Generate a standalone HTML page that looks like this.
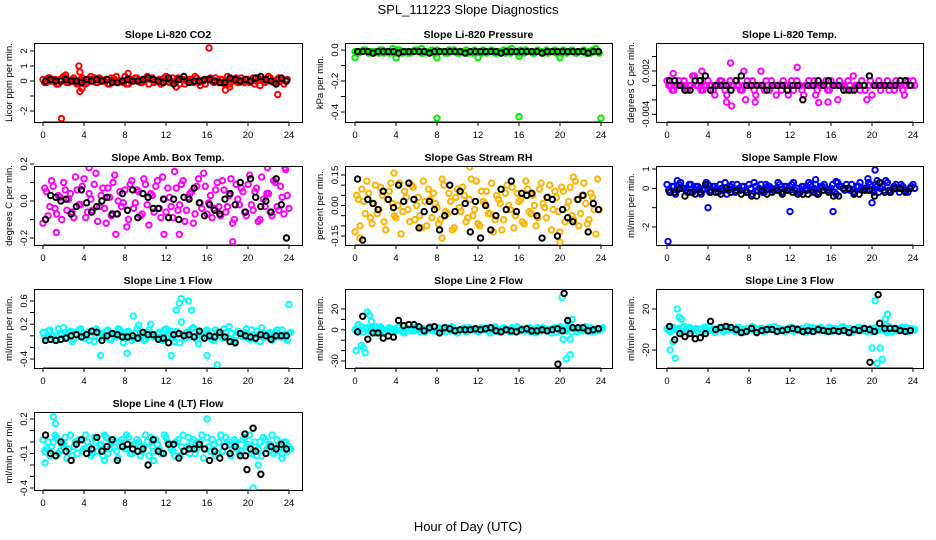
<!DOCTYPE html>
<html><head><meta charset="utf-8"><style>
html,body{margin:0;padding:0;background:#fff;}
svg{display:block;font-family:"Liberation Sans",sans-serif;}
</style></head><body>
<svg id="chart" width="936" height="540" viewBox="0 0 936 540" xmlns="http://www.w3.org/2000/svg">
<text x="468" y="14" text-anchor="middle" font-size="13">SPL_111223  Slope Diagnostics</text>
<text x="468" y="531" text-anchor="middle" font-size="13">Hour of Day (UTC)</text>
</svg>
<script>
// ---- data (values in panel units multiplied by panel scale k) ----
const xTicks = [0,4,8,12,16,20,24];
// CO2 (k=0.1)
const co2A = [1,-1,2,0,-2,1,3,-1,0,2,-2,1,0,-1,3,2,-1,1,0,-2,2,1,-1,0,3,-2,1,2,0,-1,1,-2,2,0,1,-1,3,-1,2,0,-2,1,0,1,-1,2,-3,0,1,2,-1,0,1,-2,3,1,0,-1,2,-1,1,0,-2,2,1,-1,3,0,-1,2,1,0];
const co2B = [-1,2,0,1,-2,0,2,-1,1,-1,0,2,-2,1,0,-1,2,0,1,-2,1,3,0,-1,-2,1,0,2,-1,0,3,1,-1,0,-2,2,1,0,-1,2,1,-2,0,1,3,-1,0,-2,1,0,2,-1,1,0,-2,1,2,-1,0,1,-1,2,0,-3,1,0,2,-1,1,0,-2,1];
const co2Blk = [0,1,0,0,1,0,0,-1,1,0,1,0,1,-1,-1,0,1,0,0,1,2,1,0,-1,2,-2,1,3,-1,0,0,1,1,0,-1,-1,2,1,0,1,0,2,3,1,0,-2,2,0];
const co2Out = [[1.8,-25],[3.5,10],[3.6,6],[3.6,-7],[3.8,-5],[16.2,22],[17.8,-6],[18.2,-4],[22.9,-9],[13,-4],[8.3,5],[2.2,4]];
// Pressure (k=0.01)
const prsA = [-1,-2,-1,0,-2,-1,-1,-2,0,-1,-2,-1,-1,0,-2,-1,-2,-1,0,-1,-2,-1,-1,-2,0,-1,-1,-2,-1,0,-2,-1,-1,-2,-1,0,-1,-2,-1,-1,0,-2,-1,-1,-2,0,-1,-1,-2,-1,0,-1,-2,-1,-1,-2,0,-1,-1,-2,-1,0,-2,-1,-1,-2,-1,0,-1,-2,-1,-1];
const prsB = [-2,-1,0,-1,-1,-2,-1,0,-2,-1,-1,-2,0,-1,-1,-2,-1,0,-1,-2,-1,-1,0,-2,-1,-1,-2,0,-1,-1,-2,-1,0,-1,-2,-1,-1,0,-2,-1,-1,-2,-1,0,-1,-2,-1,-1,0,-2,-1,-1,-2,0,-1,-1,-2,-1,0,-1,-2,-1,-1,0,-2,-1,-1,-2,-1,0,-1,-2];
const prsBlk = [-1,-1,-1,-2,-1,-1,-1,-1,-2,-1,-1,-1,-1,-1,-2,-1,-1,-1,-1,-1,-1,-2,-1,-1,-1,-1,-1,-1,-2,-1,-1,-1,-1,-1,-1,-1,-2,-1,-1,-1,-1,-1,-1,-1,-1,-2,-1,-1];
const prsOut = [[0,-5],[4,-5],[8,-5],[12,-5],[16,-4],[20,-5],[8,-44],[16,-43],[24,-44],[3.7,1],[6.5,1],[15.3,1],[23.5,1]];
// Li-820 Temp (k=0.00066)
const tmpA = [1,0,-1,0,0,1,-1,0,2,0,-1,0,1,0,-2,0,1,-1,0,0,1,0,-1,-3,0,1,-2,0,0,1,-1,0,-2,0,1,0,0,-1,1,0,-2,0,0,1,-1,0,0,-1,1,0,-3,0,0,1,-1,0,0,1,-1,0,-2,0,1,0,0,-1,0,1,0,-1,0,0,1];
const tmpB = [0,-1,0,1,0,-1,0,2,0,1,-1,0,0,-1,0,1,0,-2,1,0,0,-1,0,1,0,-1,0,3,-1,0,1,0,0,-1,0,-2,1,0,0,-1,0,1,0,-2,0,0,1,-1,0,0,1,0,-1,0,2,0,-1,0,-3,1,0,0,-1,0,1,0,-1,0,0,-2,1,0,0];
const tmpBlk = [1,1,0,-1,-1,1,1,2,-1,0,0,0,-1,1,2,0,0,0,0,-1,0,0,0,-1,0,0,-3,0,0,1,0,1,0,0,-1,-1,-1,0,0,2,0,0,0,0,0,1,1,0];
const tmpOut = [[6.2,4.7],[12.7,3.8],[0.6,2.5],[3.4,3],[7.5,3],[5.8,-3.5],[6.3,-4.3],[14.8,-3.6],[15.7,-3.5],[8.6,-3.5]];
// Amb box temp (k=0.01)
const ambA = [-12,5,-3,8,-7,2,10,-5,4,-9,6,-2,12,-6,1,9,-11,3,-4,7,-8,14,0,-3,6,-10,11,-1,5,-7,9,-13,3,8,-4,13,-6,2,-9,7,-2,11,-5,4,-12,8,-1,15,-7,3,-4,10,-8,6,-3,12,-10,1,7,-6,9,-2,5,-11,13,-3,4,-8,10,-5,2,17,-4];
const ambB = [7,-8,11,-4,3,-10,6,1,-6,13,-2,8,-9,4,-5,15,-3,7,-12,2,10,-7,5,-1,-14,9,-4,6,-8,12,-2,4,-6,11,-9,1,7,-3,16,-5,9,-11,2,5,-7,12,-4,8,-1,-9,6,-3,11,-6,3,-12,9,-2,5,-8,14,-5,7,-10,1,4,-6,11,-3,8,-7,3];
const ambBlk = [-10,3,2,0,1,-7,-3,6,-1,-6,-3,0,2,-7,-7,4,-5,6,-9,4,2,-4,-4,1,-9,1,-10,2,1,7,-1,-8,-2,-5,-7,1,4,-2,10,-6,12,2,-3,0,-6,12,-2,-20];
const ambOut = [[4.5,18],[21.9,18],[23.6,18],[18.5,-22],[7.1,-18],[11.8,-18],[1.3,-17],[13.3,-18]];
// Gas stream RH (k=0.01)
const rhA = [-13,3,8,-4,6,-9,10,-2,5,-12,7,1,-6,11,-3,4,-8,9,0,-5,12,-10,3,6,-1,-7,10,-4,2,-11,8,-3,5,-6,13,-2,-9,7,1,-4,11,-7,3,-12,6,0,9,-5,2,-8,12,-3,5,-10,8,1,-6,10,-2,4,-13,7,-1,9,-7,3,-4,11,-9,6,-2,13];
const rhB = [5,-10,2,12,-6,1,-4,9,-8,3,11,-5,0,-14,7,-2,10,-7,4,-11,2,8,-6,1,-9,13,-3,6,-12,4,-1,9,-8,3,-5,12,-10,2,7,-4,-13,5,1,-7,10,-2,-11,6,3,-9,8,-4,0,-6,11,-1,4,-12,7,-3,9,-8,2,-5,12,-10,5,1,-7,4,-14,-2];
const rhBlk = [13,-17,3,1,-2,7,3,-1,10,2,11,3,-11,-3,2,-2,-12,-5,10,-3,7,1,-13,2,-16,0,-12,-5,8,-2,12,-3,6,5,6,-5,-16,4,3,-15,-2,-6,-8,3,5,-13,1,-2];
const rhOut = [[11.2,19],[20,-18],[0.5,-16],[3.8,16],[21.3,14],[8.5,-16]];
// Sample flow (k=0.1)
const sfA = [2,-2,1,-1,3,0,-2,2,-1,1,-3,0,2,-1,1,-2,0,3,-1,2,-2,0,1,-1,2,-3,1,0,-2,2,1,-1,0,2,-2,1,-1,3,0,-2,1,-1,2,0,-3,1,2,-1,0,-2,3,1,-1,0,2,-2,1,-1,0,3,-1,2,-2,1,4,-1,0,2,-2,1,-1,0,2];
const sfB = [-1,1,-3,2,0,-1,2,-2,1,0,-1,3,-2,1,0,2,-1,-3,1,0,2,-1,1,-2,0,3,-1,2,-2,1,0,-1,3,-2,1,0,2,-1,-2,1,0,3,-1,2,-2,1,0,-1,2,-3,1,0,2,-1,-2,1,3,0,-1,2,-2,1,0,-1,3,-2,1,0,2,-1,-2,1,0];
const sfBlk = [-2,-2,0,-4,-2,-3,-2,2,-2,-2,-3,0,-2,-1,-3,-2,-4,-4,-1,-3,-2,-1,-3,-1,-2,-3,-3,-3,-2,-3,-1,-2,-4,-4,0,0,-3,-3,-1,-1,-4,3,-2,-2,0,0,-2,0];
const sfOut = [[0.1,-27.5],[4,-10],[12,-12],[16.2,-12],[20,-7.5],[20.3,9.5],[19.6,5],[14.5,4.5],[1,4],[16.5,3.5],[20.5,4]];
// Line 1 flow (k=0.02)
const l1A = [3,-2,5,0,-4,2,7,-1,4,-3,1,6,-2,3,0,-5,4,2,-1,5,-3,1,6,0,-2,4,-4,2,9,1,-3,5,0,-1,3,-4,6,2,-2,4,-6,1,3,-1,7,-3,2,0,5,-2,-4,3,1,6,-1,2,-5,4,0,3,-2,5,-3,1,7,-1,2,-4,3,0,5,-2,2];
const l1B = [-1,4,0,-3,6,1,-2,3,-5,2,5,-1,1,-4,3,6,-2,0,4,-3,2,-1,5,-6,3,1,-2,6,0,-4,3,10,-1,2,-3,5,0,4,-5,1,12,-2,3,6,-1,-7,2,4,0,-3,5,1,-2,3,8,-4,0,2,-1,6,-3,1,4,-5,2,0,3,-2,5,-1,1,-4,3];
const l1Blk = [-4,-3,-4,-3,-2,0,1,-1,1,4,3,-4,0,2,1,-1,-1,0,-2,3,1,1,-3,-2,-6,1,2,0,1,-1,4,-2,0,-1,3,-1,-5,-6,2,0,-1,-2,1,0,-3,0,0,0];
const l1Out = [[13,22],[13.5,32],[14.2,30],[24,27],[17,-25],[5.6,-17],[12.5,-17],[8.2,-15],[16,-17],[8.8,17],[14.5,22],[13.3,28]];
// Line 2 flow (k=1)
const l2A = [0,-2,3,1,-1,2,-3,0,1,-2,2,0,-1,3,-2,1,0,-1,2,-2,1,0,3,-1,-2,1,0,2,-1,1,-3,0,2,-1,1,0,-2,2,1,-1,0,3,-2,1,0,-1,2,-2,0,1,-1,2,0,-3,1,2,-1,0,1,-2,3,0,-1,2,1,-2,0,1,-1,2,0,-1,1];
const l2B = [1,0,-2,2,0,-1,1,3,-2,0,1,-1,2,0,-3,1,-1,2,0,1,-2,1,0,-1,2,0,-2,1,3,-1,0,1,-2,2,0,-1,1,0,2,-3,1,0,-1,2,0,-2,1,3,-1,0,1,-2,0,2,-1,1,0,-3,2,1,-1,0,2,-2,1,0,-1,3,0,-2,1,0,2];
const l2Blk = [-2,13,-9,-3,-3,-8,-6,-7,9,4,5,5,3,-1,2,3,-3,2,1,-1,0,0,0,1,0,1,2,-1,-2,0,-1,-2,0,1,-1,-1,0,-1,0,1,-1,9,2,2,2,-1,0,1];
const l2Out = [[0.1,-20],[0.3,5],[0.6,-15],[0.8,-17],[1,-22],[1.2,17],[1.4,14],[1.6,8],[20.2,31],[20.6,-28],[21,-24],[20.8,7],[21.2,10],[20.3,-9],[21,-9],[2,3]];
const l2BlkOut = [[19.8,-33],[20.4,35]];
// Line 3 flow (k=1)
const l3A = [1,-2,2,0,-1,3,-2,1,0,-2,1,2,-1,0,-3,1,2,-1,0,1,-2,2,0,-1,1,3,-2,0,1,-1,2,0,-2,1,0,-1,2,-2,1,0,-1,3,0,-2,1,2,-1,0,-2,1,0,2,-1,1,-3,0,2,-1,1,0,-2,2,1,0,-1,3,-2,0,1,-1,2,0,-1];
const l3B = [-1,2,0,1,-3,0,2,-1,1,0,-2,1,3,-1,0,2,-2,1,0,-1,2,0,-3,1,0,2,-1,1,-2,0,1,3,-1,0,-2,1,2,0,-1,1,-3,0,2,1,-1,0,-2,2,1,0,-1,3,-2,1,0,-1,2,0,-2,1,1,-1,0,2,-3,1,0,-1,2,0,-2,1,0];
const l3Blk = [3,-10,-4,-7,-4,-9,-8,-4,8,0,2,3,2,0,-3,-2,1,-3,-1,0,0,-2,-1,0,1,0,-2,-1,-2,0,-1,-2,-1,-2,-1,-3,0,-1,1,0,-2,6,1,1,1,-1,-2,-1];
const l3Out = [[0.3,-20],[0.6,-12],[1,20],[1.2,12],[1.4,10],[0.8,-28],[20.3,28],[20.5,-33],[20.8,-18],[21,-29],[21.3,10],[21.5,15],[20,-18]];
const l3BlkOut = [[19.8,-32],[20.6,34]];
// Line 4 (LT) flow (k=0.02)
const l4A = [1,-3,-6,0,2,-4,-1,-7,3,-2,-5,1,-3,0,-6,2,-4,-1,3,-5,0,-2,-7,1,-3,2,-5,-1,0,-4,3,-6,-2,1,-3,-5,2,-1,-4,0,-6,3,-2,-5,1,-3,0,-7,2,-4,-1,-5,3,-2,0,-6,1,-3,-4,2,-1,-5,0,-3,-6,1,-2,3,-4,-1,-5,0,-2];
const l4B = [-4,0,-2,3,-5,-1,2,-3,-6,0,1,-4,3,-2,-5,0,-1,-6,2,-3,1,-4,0,-2,3,-5,-1,1,-6,-2,0,2,-4,-1,-5,3,0,-3,-6,1,-2,-4,2,0,-5,-1,3,-3,-2,1,-6,0,-4,2,-1,-3,0,-5,1,-2,3,-4,-6,0,2,-3,-1,-5,1,-2,0,-4,-3];
const l4Blk = [3,-5,-6,0,-4,-8,-1,1,-5,-3,2,-4,-2,1,-8,-2,-1,-3,-4,-3,-10,1,-4,-5,-1,-1,-7,-4,-3,-3,-1,-3,-8,-4,-7,-2,-5,-2,-6,-6,-3,-4,-14,-5,-2,-3,-1,-3];
const l4Out = [[0.2,-9],[1,11],[1.2,8],[16,10],[20.5,-20],[21,-10],[6,-8],[23.3,-7],[10.8,-8]];
const l4BlkOut = [[19.9,-12],[20.5,6],[19.7,3.5]];

// ---- layout ----
const colX0 = [43,355,667], colL = [34,345,656], colR = [302,612,923];
const rowT = [43,166,289,412], rowB = [122,245,368,490];
const panels = [
 {id:'co2',title:'Slope Li-820 CO2',ylab:'Licor ppm per min.',color:'#ff0000',c:0,r:0,k:0.1,ref:[2,51,-2,111],ticks:[-2,-1,0,1,2],labels:['2','1','0','-2'],labelV:[2,1,0,-2],A:co2A,B:co2B,K:co2Blk,O:co2Out,KO:[]},
 {id:'pressure',title:'Slope Li-820 Pressure',ylab:'kPa per min.',color:'#00ee00',c:1,r:0,k:0.01,ref:[0,50,-0.4,112],ticks:[0,-0.1,-0.2,-0.3,-0.4],labels:['0.0','-0.2','-0.4'],labelV:[0,-0.2,-0.4],A:prsA,B:prsB,K:prsBlk,O:prsOut,KO:[]},
 {id:'li820-temp',title:'Slope Li-820 Temp.',ylab:'degrees C per min.',color:'#ff00ff',c:2,r:0,k:0.00066,ref:[0.002,71,-0.004,114.3],ticks:[0.004,0.002,0,-0.002,-0.004],labels:['0.002','-0.004'],labelV:[0.002,-0.004],A:tmpA,B:tmpB,K:tmpBlk,O:tmpOut,KO:[]},
 {id:'amb-box-temp',title:'Slope Amb. Box Temp.',ylab:'degrees C per min.',color:'#ff00ff',c:0,r:1,k:0.01,ref:[0.2,164,-0.2,238],ticks:[0.2,0.1,0,-0.1,-0.2],labels:['0.2','0.0','-0.2'],labelV:[0.2,0,-0.2],A:ambA,B:ambB,K:ambBlk,O:ambOut,KO:[]},
 {id:'gas-rh',title:'Slope Gas Stream RH',ylab:'percent per min.',color:'#ffb300',c:1,r:1,k:0.01,ref:[0.15,175,-0.15,236],ticks:[0.15,0.1,0.05,0,-0.05,-0.1,-0.15],labels:['0.15','0.00','-0.15'],labelV:[0.15,0,-0.15],A:rhA,B:rhB,K:rhBlk,O:rhOut,KO:[]},
 {id:'sample-flow',title:'Slope Sample Flow',ylab:'ml/min per min.',color:'#0000ff',c:2,r:1,k:0.1,ref:[1,169,-2,227],ticks:[1,0,-1,-2],labels:['1','0','-2'],labelV:[1,0,-2],A:sfA,B:sfB,K:sfBlk,O:sfOut,KO:[]},
 {id:'line1-flow',title:'Slope Line 1 Flow',ylab:'ml/min per min.',color:'#00ffff',c:0,r:2,k:0.02,ref:[0.6,301,-0.4,359],ticks:[0.6,0.4,0.2,0,-0.2,-0.4],labels:['0.6','0.2','-0.4'],labelV:[0.6,0.2,-0.4],A:l1A,B:l1B,K:l1Blk,O:l1Out,KO:[]},
 {id:'line2-flow',title:'Slope Line 2 Flow',ylab:'ml/min per min.',color:'#00ffff',c:1,r:2,k:1,ref:[20,309,-30,361],ticks:[20,10,0,-10,-20,-30],labels:['20','0','-30'],labelV:[20,0,-30],A:l2A,B:l2B,K:l2Blk,O:l2Out,KO:l2BlkOut},
 {id:'line3-flow',title:'Slope Line 3 Flow',ylab:'ml/min per min.',color:'#00ffff',c:2,r:2,k:1,ref:[20,309,-20,350],ticks:[20,0,-20],labels:['20','-20'],labelV:[20,-20],A:l3A,B:l3B,K:l3Blk,O:l3Out,KO:l3BlkOut},
 {id:'line4-flow',title:'Slope Line 4 (LT) Flow',ylab:'ml/min per min.',color:'#00ffff',c:0,r:3,k:0.02,ref:[0.2,419,-0.4,488],ticks:[0.2,0.1,0,-0.1,-0.2,-0.3,-0.4],labels:['0.2','-0.1','-0.4'],labelV:[0.2,-0.1,-0.4],A:l4A,B:l4B,K:l4Blk,O:l4Out,KO:l4BlkOut}
];

const NS='http://www.w3.org/2000/svg';
const svg=document.getElementById('chart');
function mk(tag,attrs,parent){const e=document.createElementNS(NS,tag);for(const a in attrs)e.setAttribute(a,attrs[a]);parent.appendChild(e);return e;}

panels.forEach(p=>{
  const g=mk('g',{},svg);
  
  
  const L=colL[p.c],R=colR[p.c],T=rowT[p.r],B=rowB[p.r],X0=colX0[p.c];
  const xs=h=>X0+h*246/24;
  const [v1,p1,v2,p2]=p.ref;
  const ys=v=>p1+(v-v1)*(p2-p1)/(v2-v1);
  const t=mk('text',{x:(L+R)/2,y:T-5,'text-anchor':'middle','font-size':'10.5','font-weight':'bold'},g);
  t.textContent=p.title;
  
  
  const yl=mk('text',{x:0,y:0,'text-anchor':'middle','font-size':'9.5',transform:`translate(${L-22},${(T+B)/2}) rotate(-90)`},g);
  yl.textContent=p.ylab;
  
  
  const xa=mk('g',{},g);
  
  
  mk('line',{x1:xs(0),x2:xs(24),y1:B,y2:B,stroke:'#000','stroke-width':1},xa);
  xTicks.forEach(v=>{
    mk('line',{x1:xs(v),x2:xs(v),y1:B,y2:B+4,stroke:'#000','stroke-width':1},xa);
    const tl=mk('text',{x:xs(v),y:B+16,'text-anchor':'middle','font-size':'9.5'},xa);
    tl.textContent=String(v);
    
    
  });
  const ya=mk('g',{},g);
  
  
  p.ticks.forEach(v=>{mk('line',{x1:L-4,x2:L,y1:ys(v),y2:ys(v),stroke:'#000','stroke-width':1},ya);});
  p.labels.forEach((s,i)=>{
    const tl=mk('text',{x:0,y:0,'text-anchor':'middle','font-size':'9.5',transform:`translate(${L-7},${ys(p.labelV[i])}) rotate(-90)`},ya);
    tl.textContent=s;
    
    
  });
  const cid='clip-'+p.id;
  const cp=mk('clipPath',{id:cid},g);
  mk('rect',{x:L,y:T,width:R-L,height:B-T},cp);
  const pts=mk('g',{'clip-path':`url(#${cid})`,fill:'none','stroke-width':2},g);
  
  
  const dot=(h,v,col,name)=>{
    const c=mk('circle',{cx:xs(h),cy:ys(v),r:2.7,stroke:col},pts);
    
    
  };
  p.A.forEach((v,i)=>dot(i/3,v*p.k,p.color,'sample-point'));
  p.B.forEach((v,i)=>dot(i/3+1/6,v*p.k,p.color,'sample-point'));
  p.O.forEach(o=>dot(o[0],o[1]*p.k,p.color,'outlier-point'));
  p.K.forEach((v,i)=>dot(0.25+i*0.5,v*p.k,'#000','mean-point'));
  p.KO.forEach(o=>dot(o[0],o[1]*p.k,'#000','mean-outlier-point'));
  const box=mk('rect',{x:L+0.5,y:T+0.5,width:R-L,height:B-T,fill:'none',stroke:'#000','stroke-width':1},g);
  
  
});
</script>
</body></html>
